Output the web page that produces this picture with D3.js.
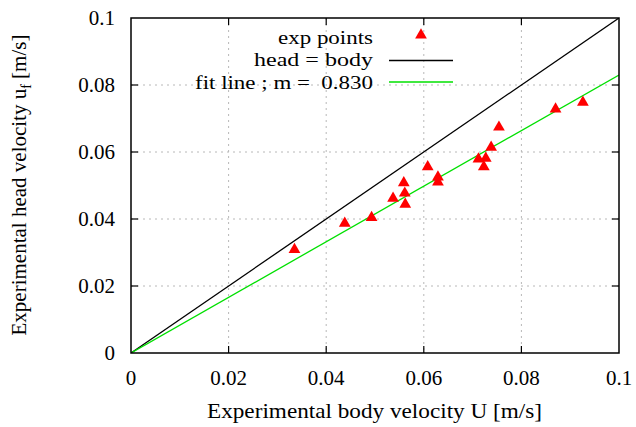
<!DOCTYPE html>
<html><head><meta charset="utf-8">
<script src="https://cdn.jsdelivr.net/npm/d3@7"></script>
<style>body{margin:0;background:#fff} #c text{white-space:pre;font-family:'Liberation Serif','Times New Roman','DejaVu Serif',serif}</style>
</head><body>
<svg id="c" width="636" height="427"></svg>
<script>
const bodyU = [0.0335,0.0438,0.0493,0.0537,0.0559,0.0561,0.0562,0.0608,0.0629,0.0629,0.0712,0.0727,0.0723,0.0738,0.0754,0.0870,0.0926];
const headU = [0.0309,0.0387,0.0404,0.0462,0.0508,0.0477,0.0444,0.0556,0.0525,0.0510,0.0579,0.0581,0.0556,0.0614,0.0674,0.0728,0.0748];
const xTicks = [0,0.02,0.04,0.06,0.08,0.1];
const yTicks = [0,0.02,0.04,0.06,0.08,0.1];
const slope = 0.830;
const legendLabels = ["exp points","head = body","fit line ; m =  0.830"];

const svg = d3.select("#c");
const L=131, R=619, T=18, B=353;
const x = d3.scaleLinear().domain([0,0.1]).range([L,R]);
const y = d3.scaleLinear().domain([0,0.1]).range([B,T]);
const fmt = d => d===0 ? "0" : String(+d.toFixed(2));
const FS = 21;

// grid
const g = svg.append("g");
g.selectAll(".gx").data(xTicks.slice(1,-1)).join("line")
  .attr("x1",d=>x(d)).attr("x2",d=>x(d)).attr("y1",T).attr("y2",B)
  .attr("stroke","#b8b8b8").attr("stroke-dasharray","2,4");
g.selectAll(".gy").data(yTicks.slice(1,-1)).join("line")
  .attr("x1",L).attr("x2",R).attr("y1",d=>y(d)).attr("y2",d=>y(d))
  .attr("stroke","#b8b8b8").attr("stroke-dasharray","2,4");

// lines
svg.append("clipPath").attr("id","pc").append("rect").attr("x",L).attr("y",T).attr("width",R-L).attr("height",B-T);
svg.append("line").attr("clip-path","url(#pc)")
  .attr("x1",x(0)).attr("y1",y(0)).attr("x2",x(0.1)).attr("y2",y(0.1))
  .attr("stroke","#000").attr("stroke-width",1.3);
svg.append("line").attr("clip-path","url(#pc)")
  .attr("x1",x(0)).attr("y1",y(0)).attr("x2",x(0.1)).attr("y2",y(0.1*slope))
  .attr("stroke","#00e000").attr("stroke-width",1.3);

// points
const tri = d3.symbol().type(d3.symbolTriangle).size(60);
svg.selectAll(".pt").data(bodyU).join("path")
  .attr("d",tri).attr("fill","#ff0000")
  .attr("transform",(d,i)=>`translate(${x(d)},${y(headU[i])})`);

// axes box + ticks (inward, mirrored)
const axG = svg.append("g");
axG.append("rect").attr("x",L).attr("y",T).attr("width",R-L).attr("height",B-T)
  .attr("fill","none").attr("stroke","#000").attr("stroke-width",1.5);
const tl = 7;
xTicks.slice(1,-1).forEach(d=>{
  axG.append("line").attr("x1",x(d)).attr("x2",x(d)).attr("y1",B).attr("y2",B-tl).attr("stroke","#000").attr("stroke-width",1.2);
  axG.append("line").attr("x1",x(d)).attr("x2",x(d)).attr("y1",T).attr("y2",T+tl).attr("stroke","#000").attr("stroke-width",1.2);
});
yTicks.slice(1,-1).forEach(d=>{
  axG.append("line").attr("x1",L).attr("x2",L+tl).attr("y1",y(d)).attr("y2",y(d)).attr("stroke","#000").attr("stroke-width",1.2);
  axG.append("line").attr("x1",R).attr("x2",R-tl).attr("y1",y(d)).attr("y2",y(d)).attr("stroke","#000").attr("stroke-width",1.2);
});
svg.selectAll(".xl").data(xTicks).join("text")
  .attr("x",d=>x(d)).attr("y",385).attr("text-anchor","middle").attr("font-size",FS).text(fmt);
svg.selectAll(".yl").data(yTicks).join("text")
  .attr("x",115).attr("y",d=>y(d)+7).attr("text-anchor","end").attr("font-size",FS).text(fmt);

// titles
svg.append("text").attr("x",207).attr("y",418).attr("font-size",FS)
  .attr("textLength",335).attr("lengthAdjust","spacingAndGlyphs")
  .text("Experimental body velocity U [m/s]");
const yt = svg.append("text").attr("transform","translate(26,185) rotate(-90)").attr("text-anchor","middle").attr("font-size",FS);
yt.append("tspan").text("Experimental head velocity u");
yt.append("tspan").attr("font-size",14).attr("dy",5).text("f");
yt.append("tspan").attr("dy",-5).text(" [m/s]");

// legend
const ly = [37,59.5,82];
const lw = [95,119,178];
legendLabels.forEach((t,i)=>{
  svg.append("text").attr("x",373-lw[i]).attr("y",ly[i]+6.5).attr("font-size",19)
    .attr("textLength",lw[i]).attr("lengthAdjust","spacingAndGlyphs").text(t);
});
svg.append("path").attr("d",tri).attr("fill","#ff0000").attr("transform",`translate(421,${ly[0]-2})`);
svg.append("line").attr("x1",389).attr("x2",453).attr("y1",ly[1]+1).attr("y2",ly[1]+1).attr("stroke","#000").attr("stroke-width",1.3);
svg.append("line").attr("x1",389).attr("x2",453).attr("y1",ly[2]).attr("y2",ly[2]).attr("stroke","#00e000").attr("stroke-width",1.3);
</script>
</body></html>
